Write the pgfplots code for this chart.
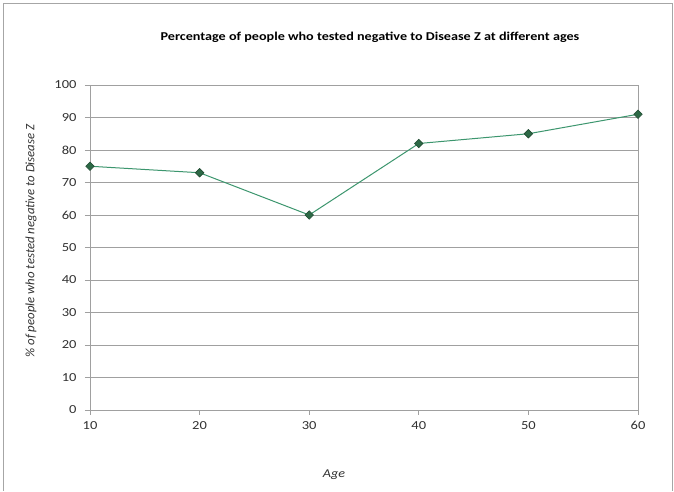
\documentclass[border=0pt]{standalone}
\usepackage{fontspec}
\setmainfont{Carlito}[FakeStretch=1.18]
\newfontfamily\ylabfont{Carlito}
\usepackage{pgfplots}
\pgfplotsset{compat=1.18}
\definecolor{gridgray}{RGB}{160,160,160}
\definecolor{linegreen}{RGB}{60,150,110}
\definecolor{markgreen}{RGB}{45,105,70}
\definecolor{txtgray}{RGB}{50,50,50}
\begin{document}
\begin{tikzpicture}[x=1pt,y=1pt]
\fill[white] (0,0) rectangle (674,491);
\draw[gray!70,line width=0.8pt] (3,0) -- (3,488) -- (672,488) -- (672,0);
\node[font=\fontsize{12}{13}\selectfont\bfseries] at (370,454) {Percentage of people who tested negative to Disease Z at different ages};
\node[font=\ylabfont\fontsize{12.8}{14}\selectfont\itshape, text=txtgray, rotate=90] at (31,250) {\% of people who tested negative to Disease Z};
\node[font=\fontsize{12}{13}\selectfont\itshape, text=txtgray] at (334,16) {Age};
\begin{axis}[
  at={(90pt,81pt)}, anchor=south west,
  scale only axis, width=548pt, height=325pt,
  xmin=10, xmax=60, ymin=0, ymax=100,
  xtick={10,20,30,40,50,60}, ytick={0,10,...,100},
  ymajorgrids, grid style={gridgray, line width=0.8pt},
  axis line style={gridgray, line width=0.8pt},
  tick style={gridgray, line width=0.8pt},
  tick align=outside, major tick length=5pt,
  xtick pos=bottom, ytick pos=left,
  tick label style={font=\fontsize{12.3}{13}\selectfont, text=txtgray},
  /pgf/number format/assume math mode=true,
  yticklabel style={xshift=-5pt},
  xticklabel style={yshift=-3pt},
  clip=false,
]
\addplot[linegreen, line width=1pt, mark=square*, mark size=3pt, mark options={rotate=45, fill=markgreen, draw=markgreen!70!black, line width=0.6pt}]
  coordinates {(10,75) (20,73) (30,60) (40,82) (50,85) (60,91)};
\end{axis}
\end{tikzpicture}
\end{document}
